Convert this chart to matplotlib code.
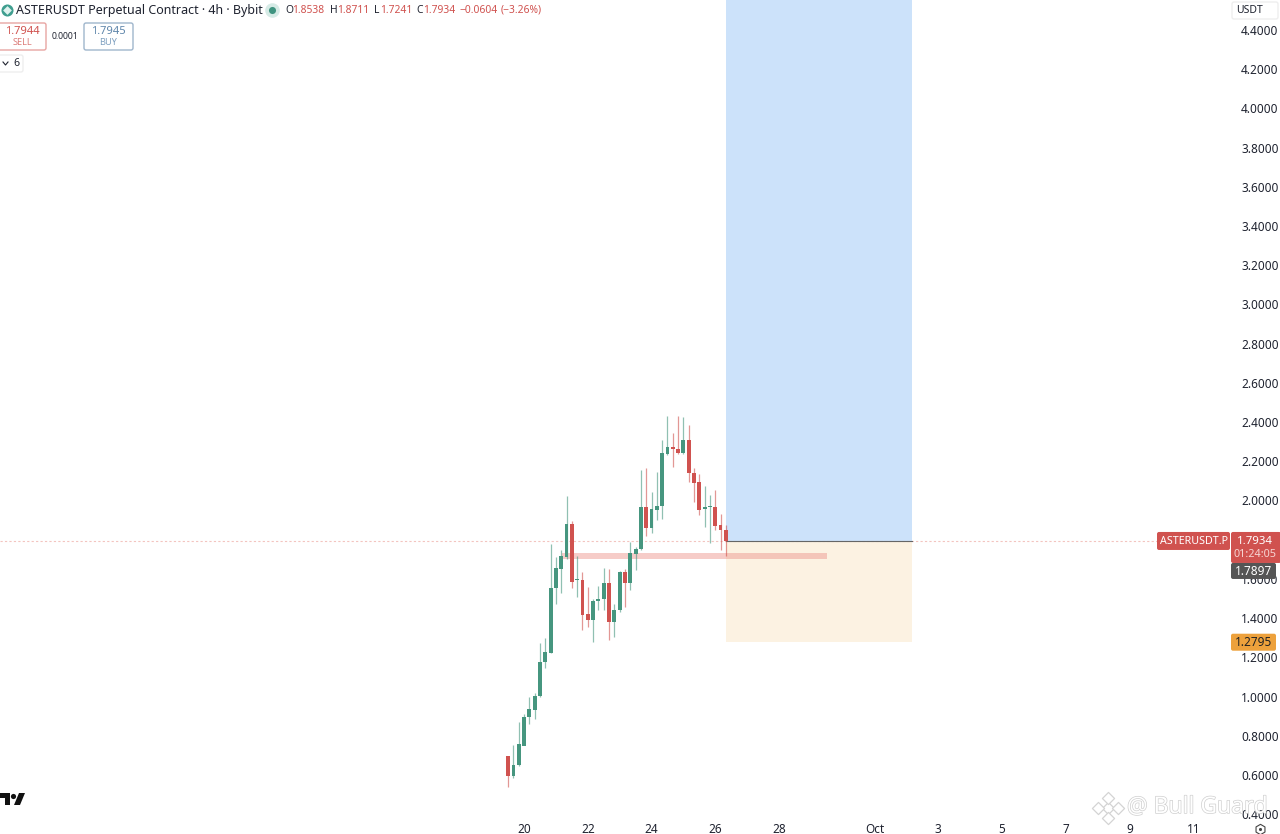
import matplotlib
matplotlib.use('Agg')
import matplotlib.pyplot as plt
import numpy as np
from matplotlib.patches import Rectangle, FancyBboxPatch, Polygon
import matplotlib.patheffects as pe

plt.rcParams['font.family'] = ['Noto Sans', 'DejaVu Sans']

# 4h candles, first one opens on 19 Sep 12:00
first_day = 19.5
opens = [0.697, 0.595, 0.651, 0.748, 0.896, 0.931, 1.003, 1.176, 1.222, 1.554, 1.651, 1.712, 1.880, 1.593,
         1.595, 1.421, 1.391, 1.487, 1.498, 1.579, 1.380, 1.442, 1.635, 1.579, 1.727, 1.753, 1.967, 1.860,
         1.952, 1.972, 2.237, 2.273, 2.263, 2.242, 2.309, 2.140, 2.094, 1.957, 1.965, 1.967, 1.875, 1.850]
highs = [0.697, 0.753, 0.870, 0.911, 0.998, 1.018, 1.273, 1.299, 1.778, 1.712, 1.748, 2.023, 1.896, 1.717,
         1.635, 1.559, 1.498, 1.564, 1.656, 1.651, 1.472, 1.640, 1.651, 1.788, 1.763, 2.156, 2.166, 2.043,
         2.145, 2.309, 2.431, 2.344, 2.431, 2.426, 2.385, 2.166, 2.135, 2.074, 2.028, 2.054, 1.931, 1.875]
lows = [0.539, 0.585, 0.646, 0.753, 0.860, 0.886, 0.998, 1.146, 1.222, 1.472, 1.528, 1.702, 1.554, 1.508,
        1.340, 1.355, 1.278, 1.442, 1.442, 1.289, 1.304, 1.431, 1.457, 1.544, 1.646, 1.748, 1.819, 1.834,
        1.901, 1.906, 2.232, 2.171, 2.237, 2.237, 2.094, 1.992, 1.926, 1.865, 1.783, 1.850, 1.748, 1.717]
closes = [0.595, 0.651, 0.758, 0.896, 0.937, 1.003, 1.176, 1.227, 1.554, 1.656, 1.717, 1.880, 1.584, 1.597,
          1.416, 1.391, 1.487, 1.498, 1.579, 1.380, 1.442, 1.635, 1.579, 1.732, 1.753, 1.967, 1.860, 1.957,
          1.972, 2.242, 2.273, 2.263, 2.242, 2.309, 2.140, 2.089, 1.952, 1.967, 1.970, 1.870, 1.850, 1.7934]

# 1.8 sits fully under the last price label in the reference
price_ticks = [0.4, 0.6, 0.8, 1.0, 1.2, 1.4, 1.6, 2.0, 2.2, 2.4, 2.6, 2.8, 3.0, 3.2, 3.4, 3.6, 3.8, 4.0, 4.2, 4.4]
day_ticks = [20, 22, 24, 26, 28, 31, 33, 35, 37, 39, 41]
day_labels = ['20', '22', '24', '26', '28', 'Oct', '3', '5', '7', '9', '11']

last_price = 1.7934
entry_price = 1.7934
stop_price = 1.2795
target_top = 4.553
zone_low, zone_high = 1.702, 1.732
position_start, position_end = 26.34, 32.16
zone_start, zone_end = 21.2, 29.5

GREEN = '#46967f'
RED = '#d0524f'
TEXT = '#1f2330'

fig = plt.figure(figsize=(12.8, 8.34), dpi=100, facecolor='white')
ax = fig.add_axes([0, 14 / 834, 1230 / 1280, 820 / 834])
ax.set_xlim(3.558, 42.15)
ax.set_ylim(0.370, 4.553)
for s in ax.spines.values():
    s.set_visible(False)

# long position tool
ax.add_patch(Rectangle((position_start, entry_price), position_end - position_start, target_top - entry_price,
                       fc='#cce2fa', ec='none', zorder=1))
ax.add_patch(Rectangle((stop_start := position_start, stop_price), position_end - position_start,
                       entry_price - stop_price, fc='#fcf2e2', ec='none', zorder=1))
ax.plot([position_start, position_end], [entry_price, entry_price], color='#666666', lw=0.8, zorder=2)
ax.axhline(last_price, color='#f3c4bf', lw=0.8, ls=(0, (2, 2)), zorder=1.5)
ax.add_patch(Rectangle((zone_start, zone_low), zone_end - zone_start, zone_high - zone_low,
                       fc='#ee9a92', ec='none', alpha=0.5, zorder=2))

# candles
days = first_day + np.arange(len(opens)) / 6
o, h, l, c = map(np.array, (opens, highs, lows, closes))
colors = np.where(c >= o, GREEN, RED)
ax.vlines(days, l, h, colors=colors, lw=0.9, alpha=0.6, zorder=3)
body = np.maximum(np.abs(c - o), 0.006)
ax.bar(days, body, bottom=np.minimum(o, c), width=0.12, color=colors, lw=0, zorder=4)

ax.yaxis.tick_right()
ax.set_yticks(price_ticks)
ax.set_yticklabels([f'{p:.4f}' for p in price_ticks], fontsize=8.5, color=TEXT)
ax.set_xticks(day_ticks)
ax.set_xticklabels(day_labels, fontsize=8.5, color=TEXT)
for lab in ax.get_xticklabels():
    if lab.get_text() == 'Oct':
        lab.set_fontweight('bold')
ax.tick_params(axis='both', length=0)
ax.tick_params(axis='y', pad=8)
ax.tick_params(axis='x', pad=2)

# overlay in pixels for the chart chrome
ov = fig.add_axes([0, 0, 1, 1], facecolor='none')
ov.set_xlim(0, 1280)
ov.set_ylim(834, 0)
ov.axis('off')


def price_y(p):
    return 834 - ax.transData.transform((0, p))[1]


def box(x0, y0, x1, y1, fc, ec='none', lw=1, r=2):
    ov.add_patch(FancyBboxPatch((x0 + r, y0 + r), x1 - x0 - 2 * r, y1 - y0 - 2 * r,
                                boxstyle=f'round,pad={r},rounding_size={r}', fc=fc, ec=ec, lw=lw, zorder=5))


def label(x, y, s, color=TEXT, size=8.5, ha='center', **kw):
    ov.text(x, y, s, color=color, fontsize=size, ha=ha, va='center', zorder=6, **kw)


# price scale labels
y_last = price_y(last_price)
box(1157, y_last - 9, 1230, y_last + 9, RED)
label(1193.5, y_last + 0.5, 'ASTERUSDT.P', color='white', size=7.7)
box(1231, y_last - 9, 1281, y_last + 22, RED)
label(1255, y_last + 0.5, f'{last_price:.4f}', color='white', size=8.2)
label(1255, y_last + 13.5, '01:24:05', color='#f6d5d3', size=7.8)
box(1231, y_last + 22, 1276, y_last + 38, '#555555')
label(1254, y_last + 30.5, '1.7897', color='white', size=8.5)
y_stop = price_y(stop_price)
box(1231, y_stop - 8, 1276, y_stop + 9, '#eda13c')
label(1254, y_stop + 1, f'{stop_price:.4f}', color='#222222', size=8.5)

# currency box
box(1232, 2, 1278, 19, 'white', ec='#eeeeee')
label(1236, 10.5, 'USDT', ha='left', size=7.5)

# header
ov.scatter([6.5], [10], s=75, color='#3f9e8f', zorder=6, lw=0)
ov.scatter([6.5], [9.5], s=20, marker='D', color='#dff2ee', zorder=7, lw=0)
label(15.5, 10, 'ASTERUSDT Perpetual Contract · 4h · Bybit', ha='left', size=9.0)
ov.scatter([272], [10], s=110, color='#d6ebe6', zorder=6, lw=0)
ov.scatter([272], [10], s=26, color='#3f9480', zorder=7, lw=0)
ohlc_parts = [(285, 'O', TEXT), (292, '1.8538', RED), (330, 'H', TEXT), (337, '1.8711', RED),
              (374, 'L', TEXT), (380, '1.7241', RED), (416, 'C', TEXT), (423, '1.7934', RED),
              (460, '−0.0604', RED), (501, '(−3.26%)', RED)]
for x, s, col in ohlc_parts:
    label(x, 10, s, color=col, ha='left', size=7.4)

box(-3, 23, 46, 50, 'white', ec='#e8a5a2')
label(22, 31, '1.7944', color=RED, size=8)
label(22, 42, 'SELL', color='#dc7c79', size=6.6)
label(65, 36, '0.0001', size=6.2)
box(84, 23, 133, 50, 'white', ec='#9fb6cc')
label(108, 31, '1.7945', color='#5f86ab', size=8)
label(108, 42, 'BUY', color='#7fa0c0', size=6.6)
box(-3, 55, 23, 72, 'white', ec='#eeeeee')
ov.plot([3, 5.5, 8], [62, 65, 62], color=TEXT, lw=0.8, zorder=6)
label(16, 63, '6', size=7.5)

# TradingView logo
ov.add_patch(Polygon([(0, 793), (10, 793), (10, 805), (5, 805), (5, 798), (0, 798)], fc='#111111', ec='none', zorder=6))
ov.add_patch(Polygon([(14, 805), (19, 793), (25, 793), (20, 805)], fc='#111111', ec='none', zorder=6))
ov.scatter([13], [795.5], s=14, color='#111111', lw=0, zorder=6)

# watermark
ov.scatter([1108, 1098, 1118, 1108, 1108], [808, 808, 808, 798, 818], s=38, marker='D', facecolors='white',
           edgecolors='#d4d4d4', lw=0.9, zorder=8)
wm = ov.text(1127, 807, '@ Bull Guard', fontsize=16.5, color='white', ha='left', va='center', zorder=8)
wm.set_path_effects([pe.Stroke(linewidth=1.0, foreground='#cfcfcf'), pe.Normal()])

# settings icon
ov.scatter([1260], [829], s=55, marker='h', facecolors='white', edgecolors='#444444', lw=0.8, zorder=6)
ov.scatter([1260], [829], s=5, color='#444444', lw=0, zorder=7)

fig.savefig('out.png', dpi=100)
